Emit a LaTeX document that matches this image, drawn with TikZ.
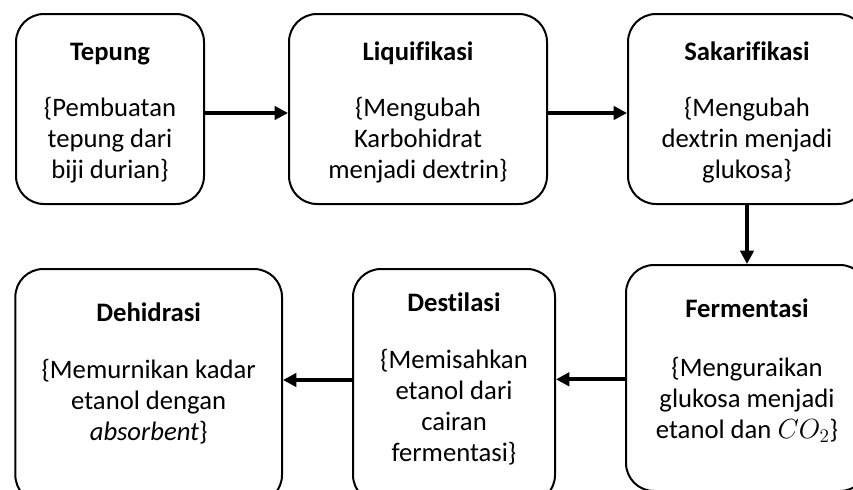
\documentclass[tikz,border=0pt]{standalone}
\usepackage{fontspec}
\setmainfont{Carlito}[Ligatures=NoCommon]
\usetikzlibrary{positioning}
\usetikzlibrary{arrows.meta}

\begin{document}
\begin{tikzpicture}[
			x=0.75pt, y=-0.75pt,
			proses/.style={draw, rectangle, rounded corners=21pt, line width=1.5pt, align=center, inner sep=0pt, minimum height=142.5pt, font=\fontsize{20}{23.25}\selectfont},
			arrow/.style={-{Triangle[length=10pt, width=10pt]}, line width=3pt}
			]
			\useasboundingbox (0,0) rectangle (853,489);
			\clip (0,0) rectangle (853,489);
			
			% Baris atas
			\node[proses, minimum width=141pt] (tepung) at (110,109) {\rule{0pt}{19pt}\textbf{Tepung}\\[19pt] \{Pembuatan\\ tepung dari\\ biji durian\}};
			\node[proses, minimum width=193.5pt, right=62.25pt of tepung] (liquifikasi) {\rule{0pt}{19pt}\textbf{Liquifikasi}\\[19pt] \{Mengubah\\ Karbohidrat\\ menjadi dextrin\}};
			\node[proses, minimum width=178.5pt, right=59.25pt of liquifikasi] (sakarifikasi) {\rule{0pt}{19pt}\textbf{Sakarifikasi}\\[19pt] \{Mengubah\\ dextrin menjadi\\ glukosa\}};
			
			% Baris bawah
			\node[proses, minimum width=181.5pt, minimum height=169.5pt, below=44.25pt of sakarifikasi] (fermentasi) {\textbf{Fermentasi}\\[21pt] \{Menguraikan\\ glukosa menjadi\\ etanol dan $CO_2$\}\rule[-14pt]{0pt}{0pt}};
			\node[proses, minimum width=151.5pt, minimum height=175.5pt, left=51.75pt of fermentasi, yshift=-6pt] (destilasi) {\textbf{Destilasi}\\[19.5pt] \{Memisahkan\\ etanol dari\\ cairan\\ fermentasi\}\rule[-14pt]{0pt}{0pt}};
			\node[proses, minimum width=200pt, minimum height=175.5pt, left=51.75pt of destilasi] (dehidrasi) {\textbf{Dehidrasi}\\[19.5pt] \{Memurnikan kadar\\ etanol dengan\\ \textit{absorbent}\}\rule[-22pt]{0pt}{0pt}};
			
			% Panah
			\draw[arrow] ([yshift=-3pt]tepung.east) -- ([yshift=-3pt]liquifikasi.west);
			\draw[arrow] ([yshift=-3pt]liquifikasi.east) -- ([yshift=-3pt]sakarifikasi.west);
			\draw[arrow] (sakarifikasi.south) -- (sakarifikasi.south |- fermentasi.north);
			\draw[arrow] ([yshift=-1pt]fermentasi.west) -- ([yshift=-1pt]fermentasi.west -| destilasi.east);
			\draw[arrow] ([yshift=4.5pt]destilasi.west) -- ([yshift=4.5pt]destilasi.west -| dehidrasi.east);
		\end{tikzpicture}
\end{document}
